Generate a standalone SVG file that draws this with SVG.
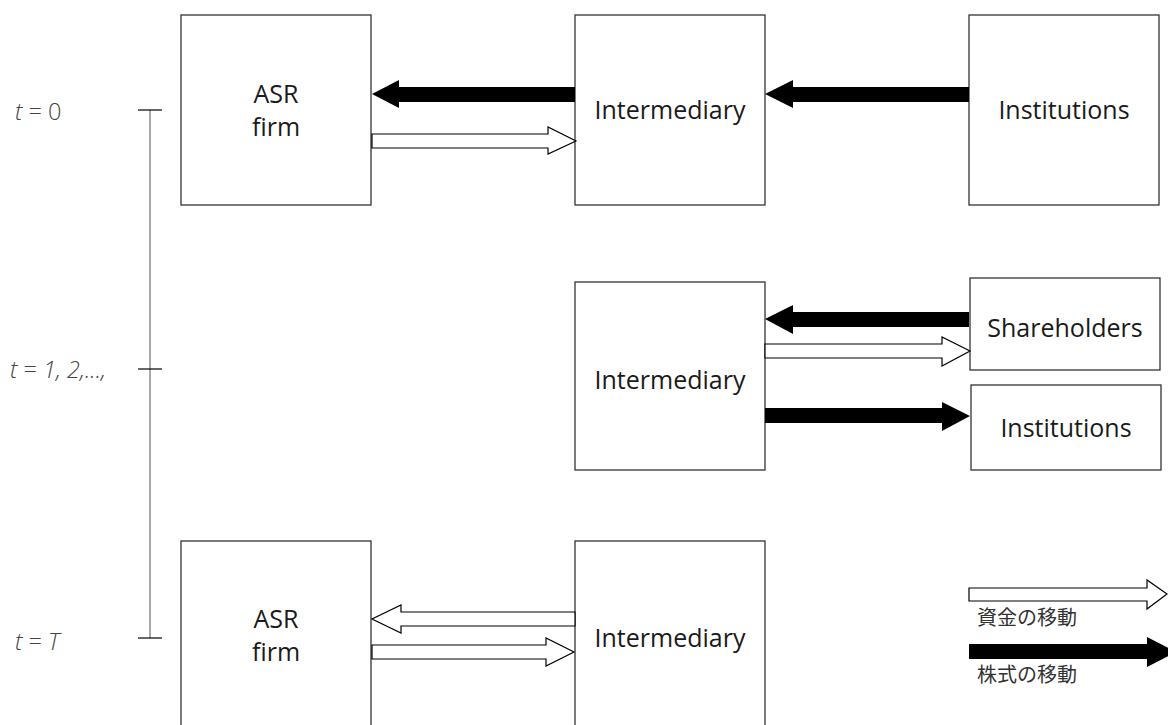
<svg xmlns="http://www.w3.org/2000/svg" width="1168" height="725" viewBox="0 0 1168 725">
  <style>
    .box { fill: #ffffff; stroke: #333333; stroke-width: 1.3; }
    .lbl { font-family: "Open Sans", "Noto Sans", sans-serif; font-size: 25px; fill: #1a1a1a; text-anchor: middle; }
    .time { font-family: "Open Sans", "Noto Sans", sans-serif; font-size: 23.5px; font-weight: 300; fill: #444444; }
    .legend { font-family: "Noto Sans CJK JP", sans-serif; font-size: 20px; fill: #333333; }
    .solid { fill: #000000; stroke: none; }
    .hollow { fill: #ffffff; stroke: #000000; stroke-width: 1.2; stroke-linejoin: miter; }
    .axis { stroke: #555555; stroke-width: 1; fill: none; }
    .tick { stroke: #000000; stroke-width: 1.2; fill: none; }
  </style>
  <rect width="1168" height="725" fill="#ffffff"/>

  <!-- time axis -->
  <g id="timeline">
    <line class="axis" x1="150" y1="110" x2="150" y2="638"/>
    <line class="tick" x1="138" y1="110" x2="162" y2="110"/>
    <line class="tick" x1="138" y1="369" x2="162" y2="369"/>
    <line class="tick" x1="138" y1="638" x2="162" y2="638"/>
    <text class="time" x="15" y="120"><tspan font-style="italic">t</tspan> = 0</text>
    <text class="time" x="10" y="378"><tspan font-style="italic">t</tspan> = <tspan font-style="italic">1, 2,...,</tspan></text>
    <text class="time" x="15" y="650"><tspan font-style="italic">t</tspan> = <tspan font-style="italic">T</tspan></text>
  </g>

  <!-- t = 0 -->
  <g id="asr-firm-0">
    <rect class="box" x="181" y="15" width="190" height="190"/>
    <text class="lbl" x="276" y="103">ASR</text>
    <text class="lbl" x="276" y="136">firm</text>
  </g>
  <g id="intermediary-0">
    <rect class="box" x="575" y="15" width="190" height="190"/>
    <text class="lbl" x="670" y="119">Intermediary</text>
  </g>
  <g id="institutions-0">
    <rect class="box" x="969" y="15" width="190" height="190"/>
    <text class="lbl" x="1064" y="119">Institutions</text>
  </g>

  <!-- t = 1, 2, ... -->
  <g id="intermediary-1">
    <rect class="box" x="575" y="282" width="190" height="188"/>
    <text class="lbl" x="670" y="389">Intermediary</text>
  </g>
  <g id="shareholders-1">
    <rect class="box" x="970" y="278" width="190" height="92"/>
    <text class="lbl" x="1065" y="337">Shareholders</text>
  </g>
  <g id="institutions-1">
    <rect class="box" x="971" y="385" width="190" height="85"/>
    <text class="lbl" x="1066" y="437">Institutions</text>
  </g>

  <!-- t = T -->
  <g id="asr-firm-T">
    <rect class="box" x="181" y="541" width="190" height="200"/>
    <text class="lbl" x="276" y="628">ASR</text>
    <text class="lbl" x="276" y="661">firm</text>
  </g>
  <g id="intermediary-T">
    <rect class="box" x="575" y="541" width="190" height="200"/>
    <text class="lbl" x="670" y="647">Intermediary</text>
  </g>

  <!-- flows: solid = shares, hollow = cash -->
  <g id="connectors">
    <!-- t = 0 -->
    <polygon class="solid" points="575,87 399,87 399,80 372,94 399,108 399,102 575,102"/>
    <polygon class="hollow" points="372,134 548,134 548,127 576,141 548,154 548,148 372,148"/>
    <polygon class="solid" points="969,87 793,87 793,80 765,94 793,108 793,102 969,102"/>
    <!-- t = 1, 2, ... -->
    <polygon class="solid" points="969,312 793,312 793,305 765,319 793,334 793,327 969,327"/>
    <polygon class="hollow" points="765,344 942,344 942,337 970,351 942,366 942,358 765,358"/>
    <polygon class="solid" points="765,408 942,408 942,402 970,416 942,431 942,423 765,423"/>
    <!-- t = T -->
    <polygon class="hollow" points="575,612 401,612 401,605 372,619 401,633 401,626 575,626"/>
    <polygon class="hollow" points="372,645 546,645 546,638 574,652 546,666 546,659 372,659"/>
  </g>

  <!-- legend -->
  <g id="legend">
    <polygon class="hollow" points="969,588 1147,588 1147,580 1167,594 1147,609 1147,601 969,601"/>
    <text class="legend" x="977" y="625">資金の移動</text>
    <polygon class="solid" points="969,644 1147,644 1147,637 1176,652 1147,667 1147,659 969,659"/>
    <text class="legend" x="977" y="682">株式の移動</text>
  </g>
</svg>
